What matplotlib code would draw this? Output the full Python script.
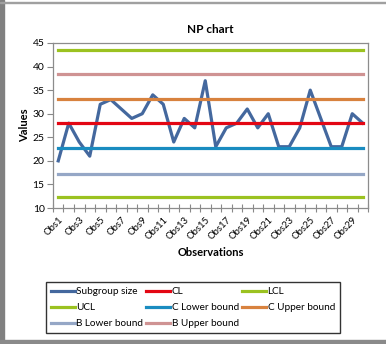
import matplotlib
matplotlib.use("Agg")
import matplotlib.pyplot as plt
from matplotlib.patches import Rectangle

# observations and subgroup sizes
observations = [f"Obs{i}" for i in range(1, 31)]
subgroup_size = [20, 28, 24, 21, 32, 33, 31, 29, 30, 34,
                 32, 24, 29, 27, 37, 23, 27, 28, 31, 27,
                 30, 23, 23, 27, 35, 29, 23, 23, 30, 28]

# control limits / zone bounds
limit_names = ["CL", "LCL", "UCL", "C Lower bound", "C Upper bound",
               "B Lower bound", "B Upper bound"]
limit_values = [27.95, 12.3, 43.5, 22.7, 33.1, 17.3, 38.4]
limit_colors = ["#E30613", "#9BC220", "#9BC220", "#1A8CC0", "#D8823E",
                "#95A7C6", "#CF9393"]

plt.rcParams["font.family"] = ["Lato", "DejaVu Sans"]

fig = plt.figure(figsize=(3.86, 3.44), dpi=100)
ax = fig.add_axes([53 / 386, 1 - 208 / 344, 315 / 386, 165 / 344])

x = list(range(len(observations)))
handles = []
h, = ax.plot(x, subgroup_size, color="#44689E", lw=2.3,
             solid_joinstyle="round", label="Subgroup size", zorder=2)
handles.append(h)
for name, val, col in zip(limit_names, limit_values, limit_colors):
    h, = ax.plot(x, [val] * len(x), color=col, lw=2.3, label=name, zorder=3)
    handles.append(h)

ax.set_xlim(-0.5, len(x) - 0.5)
ax.set_ylim(10, 45)
ax.set_yticks(range(10, 46, 5))

# category boundary ticks, labels on every other category
ax.set_xticks([i - 0.5 for i in range(len(x) + 1)])
ax.set_xticklabels([])
ax.set_xticks(x[::2], minor=True)
ax.set_xticklabels(observations[::2], minor=True, rotation=45, ha="right",
                   rotation_mode="anchor", fontsize=6.8)
ax.tick_params(axis="x", which="major", direction="inout", length=6,
               color="#888888", width=0.8)
ax.tick_params(axis="x", which="minor", length=0, pad=5)
ax.tick_params(axis="y", direction="out", length=4, color="#888888",
               width=0.8, labelsize=7.5, pad=2)

for sp in ax.spines.values():
    sp.set_color("#8C8C8C")
    sp.set_linewidth(0.9)

ax.set_title("NP chart", fontsize=8.5, fontweight="bold", pad=7)
ax.set_ylabel("Values", fontsize=8, fontweight="bold", labelpad=2)
ax.set_xlabel("Observations", fontsize=8, fontweight="bold", labelpad=4)

# legend in row-major order with 3 columns
order = [0, 3, 6, 1, 4, 7, 2, 5]
leg = fig.legend([handles[i] for i in order],
                 [handles[i].get_label() for i in order],
                 loc="lower left", bbox_to_anchor=(46 / 386, 11 / 344, 294 / 386, 61 / 344),
                 mode="expand", ncol=3, fontsize=7.2, frameon=True, fancybox=False,
                 handlelength=2.4, handletextpad=0.15, columnspacing=0.5,
                 borderaxespad=0, borderpad=0.5, labelspacing=0.7)
leg.get_frame().set_edgecolor("black")
leg.get_frame().set_linewidth(1.0)

# window-style gray edges
fig.patches.append(Rectangle((0, 0), 4 / 386, 1, transform=fig.transFigure,
                             color="#808080", zorder=0))
fig.patches.append(Rectangle((0, 0), 1, 4 / 344, transform=fig.transFigure,
                             color="#8A8A8A", zorder=0))
fig.patches.append(Rectangle((0, 1 - 3 / 344), 1, 1.2 / 344, transform=fig.transFigure,
                             color="#A0A0A0", zorder=0))

fig.savefig("out.png", dpi=100)
